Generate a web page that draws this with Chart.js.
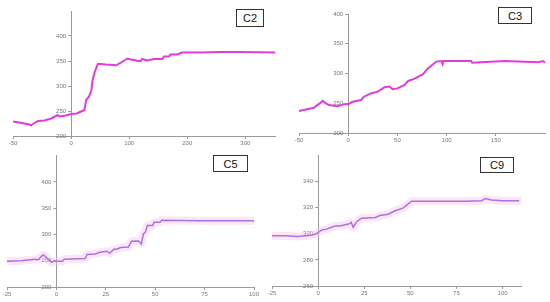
<!DOCTYPE html>
<html>
<head>
<meta charset="utf-8">
<script src="https://cdn.jsdelivr.net/npm/chart.js@4.4.1/dist/chart.umd.min.js"></script>
<style>
    html, body { margin: 0; padding: 0; background: #fff; }
    #wrap { position: relative; width: 550px; height: 302px; overflow: hidden; }
    canvas { position: absolute; }
    .tag {
        position: absolute; box-sizing: border-box; border: 1px solid #333;
        font: 11px "Liberation Sans", Arial, sans-serif; color: #111;
        display: flex; align-items: center; justify-content: center; background: #fff;
    }
</style>
</head>
<body>
<div id="wrap">
    <canvas id="c2" style="left:0;top:0"></canvas>
    <canvas id="c3" style="left:280px;top:0"></canvas>
    <canvas id="c5" style="left:0;top:150px"></canvas>
    <canvas id="c9" style="left:265px;top:150px"></canvas>
    <div class="tag" style="left:236px;top:9px;width:28px;height:18px">C2</div>
    <div class="tag" style="left:498px;top:7px;width:34px;height:17px">C3</div>
    <div class="tag" style="left:213px;top:155px;width:35px;height:17px">C5</div>
    <div class="tag" style="left:480px;top:157px;width:34px;height:16px">C9</div>
</div>
<script>
// ---- data ----
const c2X = [-100, -85, -72, -69, -66, -57, -46, -34, -23, -20, -9, 0, 10, 17, 23, 26, 31, 35, 37, 41, 46, 51, 60, 74, 77, 86, 97, 103, 109, 114, 120, 122, 131, 143, 157, 160, 169, 171, 183, 191, 223, 257, 291, 351];
const c2Y = [229, 226, 223, 221, 224, 230, 231, 235, 242, 239, 241, 244, 245, 249, 252, 272, 279, 292, 312, 329, 344, 344, 343, 342, 341, 347, 355, 353, 352, 350, 350, 354, 351, 354, 354, 359, 359, 363, 363, 367, 367, 368, 368, 367];
const c2XTicks = [-100, 0, 100, 200, 300];
const c2XLabels = ['-50', '0', '100', '200', '300'];
const c2YTicks = [200, 250, 300, 350, 400];

const c3X = [-50, -35, -28, -26, -23, -19.5, -11, -4, 0, 4.5, 13, 16, 23, 30, 37, 42, 45, 50, 57, 61, 67, 76, 81, 89.5, 95, 96, 97, 125, 126, 159, 193, 198, 200];
const c3Y = [237, 242.5, 251, 254, 250, 247, 245, 248.5, 248.5, 252.5, 255.5, 261, 266.5, 269.5, 277, 278, 273.5, 275, 280.5, 287.5, 291, 299, 308.5, 320, 321, 316, 321, 321, 318, 321, 319, 321, 318];
const c3XTicks = [-50, 0, 50, 100, 150];
const c3YTicks = [200, 250, 300, 350, 400];

const c5X = [-25, -18, -13, -10.5, -9, -8, -6.7, -5.5, -4, -3, -2.5, -1.5, 3, 4, 14.6, 15.5, 19.6, 22, 25.5, 27, 29, 30.5, 32.6, 36.4, 38, 41.5, 43, 44, 45, 46, 48.7, 49.4, 52.4, 53.2, 72, 100];
const c5Y = [249, 250, 252, 253, 252, 257, 261, 258, 252, 250, 247, 249, 249, 253, 254, 262, 263, 266, 268, 264, 272, 272, 275, 276, 287, 287.5, 282, 301, 304, 317, 317, 323, 323, 327, 326, 326];
const c5XTicks = [-25, 0, 25, 50, 75, 100];
const c5YTicks = [200, 250, 300, 350, 400];

const c9X = [-25, -18, -11, -3.6, -1, 2, 4.5, 7.3, 9, 11.8, 17, 18, 19, 21, 23.6, 31, 33.5, 38, 41.7, 46, 48, 50.7, 61.6, 79.7, 88.7, 90.6, 94, 99.7, 109];
const c9Y = [298.5, 298.5, 298, 299, 300, 303, 303.6, 305, 306, 306, 307.7, 308.7, 305, 309.5, 312, 312.5, 314, 315, 317.7, 319.7, 322, 325, 325, 325, 325.4, 327, 326, 325.4, 325.4];
const c9XTicks = [-25, 0, 25, 50, 75, 100];
const c9YTicks = [260, 280, 300, 320, 340];

const MAGENTA = '#e43bd8';
const PURPLE = '#7446d2';
const BAND = 'rgba(246, 190, 236, 0.4)';

const toPoints = (xs, ys) => xs.map((x, i) => ({ x: x, y: ys[i] }));

// move the left y axis so it crosses the x axis at x = 0
const crossAtZero = {
    id: 'crossAtZero',
    afterLayout(chart) {
        const px = chart.scales.x.getPixelForValue(0);
        const y = chart.scales.y;
        y.left = px - 40;
        y.right = px;
        y.width = 40;
    }
};

function makePanel(id, p) {
    const canvas = document.getElementById(id);
    const datasets = [];
    if (p.band) {
        datasets.push({
            data: toPoints(p.x, p.y), borderColor: BAND, borderWidth: 8,
            pointRadius: 0, borderJoinStyle: 'round', borderCapStyle: 'round'
        });
    }
    datasets.push({
        data: toPoints(p.x, p.y), borderColor: p.color, borderWidth: p.lineWidth,
        pointRadius: 0, tension: 0
    });

    const axisLine = { display: true, color: '#9a9a9a', width: 1 };
    const tickFont = { family: "'Liberation Sans', Arial, sans-serif", size: 6 };

    new Chart(canvas, {
        type: 'line',
        data: { datasets: datasets },
        plugins: [crossAtZero],
        options: {
            responsive: false,
            animation: false,
            layout: { padding: p.pad },
            plugins: { legend: { display: false }, tooltip: { enabled: false } },
            scales: {
                x: {
                    type: 'linear', position: 'bottom', min: p.xMin, max: p.xMax,
                    border: axisLine,
                    grid: { drawOnChartArea: false, drawTicks: true, tickLength: 3, color: '#9a9a9a' },
                    ticks: {
                        font: tickFont, color: '#777', padding: 1, maxRotation: 0,
                        callback: (v) => {
                            const i = p.xTicks.indexOf(v);
                            return p.xLabels ? p.xLabels[i] : String(v);
                        }
                    },
                    afterBuildTicks: (s) => { s.ticks = p.xTicks.map(v => ({ value: v })); },
                    afterFit: (s) => { s.height = 12; }
                },
                y: {
                    type: 'linear', position: 'left', min: p.yMin, max: p.yMax,
                    border: axisLine,
                    grid: { drawOnChartArea: false, drawTicks: true, tickLength: 3, color: '#9a9a9a' },
                    ticks: { font: tickFont, color: '#777', padding: 2, crossAlign: 'near' },
                    afterBuildTicks: (s) => { s.ticks = p.yTicks.map(v => ({ value: v })); },
                    afterFit: (s) => { s.width = 0; }
                }
            }
        }
    });
}

document.addEventListener('DOMContentLoaded', () => {
    const sizes = { c2: [280, 150], c3: [270, 150], c5: [270, 152], c9: [285, 152] };
    Object.keys(sizes).forEach(id => {
        const c = document.getElementById(id);
        c.width = sizes[id][0]; c.height = sizes[id][1];
    });

    // top left
    makePanel('c2', {
        x: c2X, y: c2Y, xMin: -100, xMax: 351, yMin: 200, yMax: 450,
        xTicks: c2XTicks, xLabels: c2XLabels, yTicks: c2YTicks,
        color: MAGENTA, lineWidth: 2,
        pad: { left: 13, right: 5, top: 11, bottom: 2 }
    });

    // top right
    makePanel('c3', {
        x: c3X, y: c3Y, xMin: -50, xMax: 200, yMin: 200, yMax: 400,
        xTicks: c3XTicks, yTicks: c3YTicks,
        color: MAGENTA, lineWidth: 2,
        pad: { left: 19, right: 5, top: 14, bottom: 5 }
    });

    // bottom left
    makePanel('c5', {
        x: c5X, y: c5Y, xMin: -25, xMax: 100, yMin: 200, yMax: 450,
        xTicks: c5XTicks, yTicks: c5YTicks,
        color: PURPLE, lineWidth: 1.5, band: true,
        pad: { left: 7, right: 16, top: 5, bottom: 3 }
    });

    // bottom right
    makePanel('c9', {
        x: c9X, y: c9Y, xMin: -25, xMax: 110, yMin: 260, yMax: 360,
        xTicks: c9XTicks, yTicks: c9YTicks,
        color: PURPLE, lineWidth: 1.5, band: true,
        pad: { left: 7, right: 29, top: 5, bottom: 4 }
    });
});
</script>
</body>
</html>
